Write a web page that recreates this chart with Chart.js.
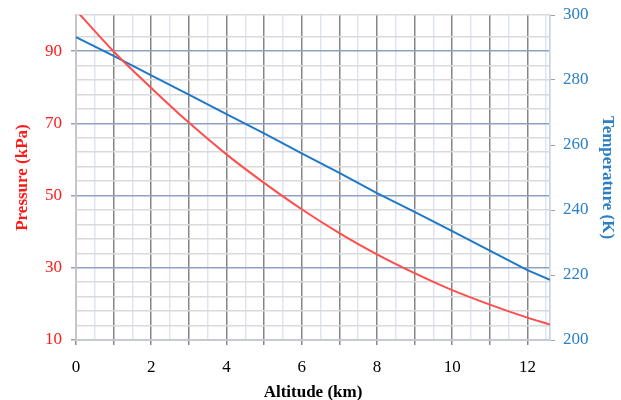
<!DOCTYPE html>
<html lang="en">
<head>
  <meta charset="UTF-8" />
  <title>Pressure and Temperature vs Altitude</title>
  <script src="https://cdn.jsdelivr.net/npm/chart.js"></script>
  <style>
    html, body { margin: 0; padding: 0; background: #fff; }
    #wrap { width: 621px; height: 400px; }
  </style>
</head>
<body>
  <div id="wrap"><canvas id="grafico" width="621" height="400"></canvas></div>

  <script>
    // data
    const altitude = [0, 1, 2, 3, 4, 5, 6, 7, 8, 9, 10, 11, 12, 12.6];
    const pressure = [101.3, 89.9, 79.8, 70.2, 61.4, 53.5, 46.2, 39.6, 33.7, 28.5, 23.8, 19.8, 16.2, 14.3];
    const temperature = [293.2, 287.4, 281.4, 275.5, 269.5, 263.6, 257.4, 251.4, 245.2, 239.4, 233.5, 227.5, 221.5, 218.5];

    const xLabels = [0, 2, 4, 6, 8, 10, 12];
    const pressureLabels = [10, 30, 50, 70, 90];
    const tempLabels = [200, 220, 240, 260, 280, 300];

    const serif = "'Liberation Serif', 'Times New Roman', serif";
    const rojo = '#ff1a1a';
    const azul = '#2b7fc6';

    // grid positions (not data)
    const xGrid = [];
    for (let v = 0; v <= 12.5; v += 0.5) xGrid.push(v);
    xGrid.push(12.6);
    const yGrid = [];
    for (let v = 10; v <= 94; v += 4) yGrid.push(v);
    yGrid.push(100);

    const puntos = (ys) => altitude.map((x, i) => ({ x: x, y: ys[i] }));

    // keep the plot area fixed: no extra room above/below for the side labels
    const sinPadding = (w) => (s) => { s.width = w; s.paddingTop = 0; s.paddingBottom = 0; };

    new Chart(document.getElementById('grafico'), {
      type: 'line',
      data: {
        datasets: [
          {
            label: 'Pressure',
            data: puntos(pressure),
            yAxisID: 'y',
            borderColor: '#ff4d4d',
            borderWidth: 2,
            pointRadius: 0,
            cubicInterpolationMode: 'monotone'
          },
          {
            label: 'Temperature',
            data: puntos(temperature),
            yAxisID: 'y2',
            borderColor: '#1f78c8',
            borderWidth: 2,
            pointRadius: 0
          }
        ]
      },
      options: {
        responsive: false,
        animation: false,
        layout: { padding: { top: 15, left: 0, right: 0, bottom: 0 } },
        plugins: {
          legend: { display: false },
          tooltip: { enabled: false }
        },
        scales: {
          x: {
            type: 'linear',
            position: 'bottom',
            min: 0,
            max: 12.6,
            afterBuildTicks: (s) => { s.ticks = xGrid.map(v => ({ value: v })); },
            afterFit: (s) => { s.height = 60; },
            ticks: {
              autoSkip: false,
              maxRotation: 0,
              padding: 12,
              color: '#000',
              font: { family: serif, size: 17 },
              callback: (v) => xLabels.includes(v) ? String(v) : ''
            },
            grid: {
              lineWidth: 1.5,
              tickLength: 5,
              color: (c) => (c.tick && Number.isInteger(c.tick.value)) ? '#858585' : '#dde5f3',
              tickColor: (c) => (c.tick && Number.isInteger(c.tick.value)) ? '#8a8a8a' : 'rgba(0,0,0,0)'
            },
            border: { color: '#c8c8c8', width: 1.5 },
            title: {
              display: true,
              text: 'Altitude (km)',
              color: '#000',
              font: { family: serif, size: 17, weight: 'bold' },
              padding: { top: 0, bottom: -3 }
            }
          },
          y: {
            type: 'linear',
            position: 'left',
            min: 10,
            max: 100,
            afterBuildTicks: (s) => { s.ticks = yGrid.map(v => ({ value: v })); },
            afterFit: sinPadding(76),
            ticks: {
              autoSkip: false,
              padding: 9,
              color: rojo,
              font: { family: serif, size: 17 },
              callback: (v) => pressureLabels.includes(v) ? String(v) : ''
            },
            grid: {
              lineWidth: 1.5,
              tickLength: 5,
              color: (c) => (c.tick && pressureLabels.includes(c.tick.value)) ? '#8fa1c0' : '#dadada',
              tickColor: (c) => (c.tick && pressureLabels.includes(c.tick.value)) ? '#a0a0a0' : 'rgba(0,0,0,0)'
            },
            border: { color: '#c8c8c8', width: 1.5 },
            title: {
              display: true,
              text: 'Pressure (kPa)',
              color: rojo,
              font: { family: serif, size: 17, weight: 'bold' },
              padding: { top: 12, bottom: 0 }
            }
          },
          y2: {
            type: 'linear',
            position: 'right',
            min: 200,
            max: 300,
            afterBuildTicks: (s) => { s.ticks = tempLabels.map(v => ({ value: v })); },
            afterFit: sinPadding(71),
            ticks: {
              autoSkip: false,
              padding: 8,
              color: azul,
              font: { family: serif, size: 17 }
            },
            grid: {
              drawOnChartArea: false,
              tickLength: 5,
              tickColor: '#a0a0a0'
            },
            border: { color: '#c9d3e6', width: 1.5 },
            title: {
              display: true,
              text: 'Temperature (K)',
              color: azul,
              font: { family: serif, size: 17, weight: 'bold' },
              padding: { top: 3, bottom: 0 }
            }
          }
        }
      }
    });
  </script>
</body>
</html>
